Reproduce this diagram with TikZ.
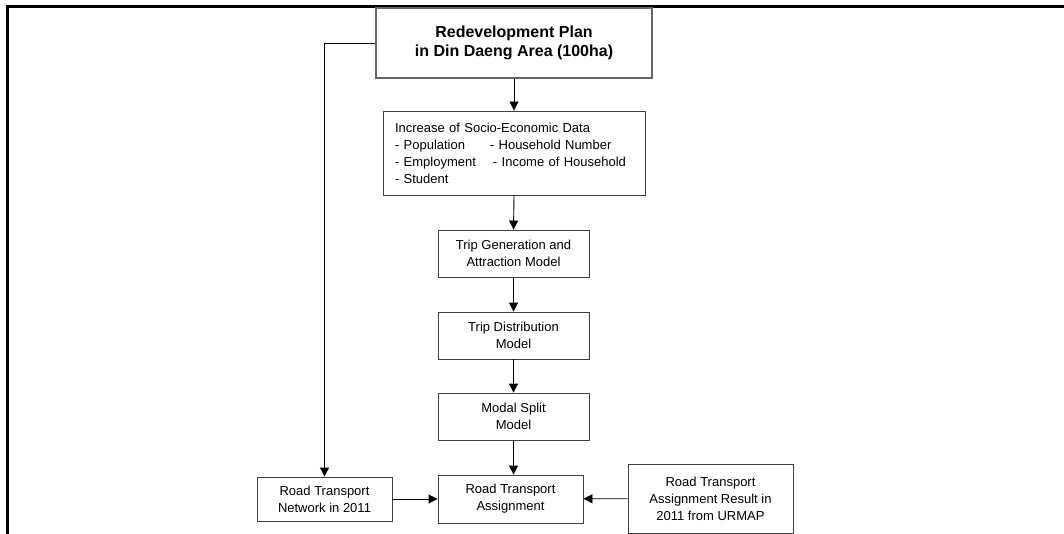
\documentclass[tikz,border=0pt]{standalone}
\usepackage{fontspec}
\setmainfont{Liberation Sans}
\usetikzlibrary{arrows.meta}
\begin{document}
\begin{tikzpicture}[x=1pt,y=-1pt,
 box/.style={draw=black!75, line width=0.9pt, fill=white, inner sep=0pt, align=center, font=\fontsize{13}{17}\selectfont},
 arr/.style={-{Triangle[length=9pt,width=9pt]}, line width=0.9pt},
 frame/.style={line width=3pt}
 ]
\useasboundingbox (0,0) rectangle (1064,534);
\draw[frame] (7.5,534) -- (7.5,6.5) -- (1064,6.5);
\node[box, draw=black!60, line width=1.5pt, minimum width=276pt, minimum height=70pt, font=\fontsize{16}{18.5}\selectfont\bfseries] (plan) at (514,43) {Redevelopment Plan\\in Din Daeng Area (100ha)};
\node[box, minimum width=262pt, minimum height=84pt, text width=238pt, align=left] (socio) at (514,153) {Increase of Socio-Economic Data\\
\makebox[95pt][l]{- Population}- Household Number\\
\makebox[98pt][l]{- Employment}- Income of Household\\
- Student};
\node[box, minimum width=151pt, minimum height=47pt] (tg) at (513.5,253.5) {Trip Generation and\\Attraction Model};
\node[box, minimum width=151pt, minimum height=47pt] (td) at (513.5,335.5) {Trip Distribution\\Model};
\node[box, minimum width=151pt, minimum height=47pt] (ms) at (513.5,416.5) {Modal Split\\Model};
\node[box, minimum width=145pt, minimum height=48pt] (rta) at (510.5,499) {Road Transport\\Assignment};
\node[box, minimum width=135pt, minimum height=44pt] (net) at (324.5,499) {Road Transport\\Network in 2011};
\node[box, minimum width=165pt, minimum height=69pt] (urmap) at (710.5,498.5) {Road Transport\\Assignment Result in\\2011 from URMAP};
\draw[arr] (plan.south) -- (socio.north);
\draw[arr] (socio.south) -- (tg.north);
\draw[arr] (tg) -- (td);
\draw[arr] (td) -- (ms);
\draw[arr] (ms.south) -- (ms.south |- rta.north);
\draw[arr] (net) -- (rta);
\draw[arr] (urmap) -- (rta);
\draw[arr] (plan.west) -| (net.north);
\end{tikzpicture}
\end{document}
